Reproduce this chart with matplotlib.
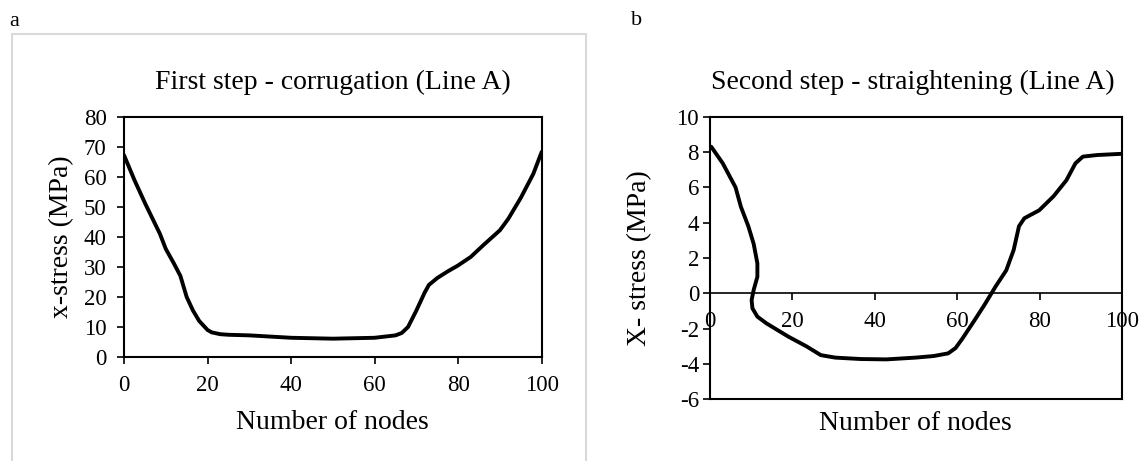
import matplotlib
matplotlib.use("Agg")
import matplotlib.pyplot as plt
from matplotlib.patches import Rectangle

plt.rcParams['font.family'] = ['Liberation Serif', 'DejaVu Serif']

# Panel a: first step - corrugation
nodes_a = [0, 2.5, 5.1, 8.6, 10, 12, 13.5, 15, 16.5, 18, 20, 21, 23, 25, 30, 40, 50,
           60, 65, 66.5, 68, 70, 72, 73, 75, 77.5, 80, 83, 86, 90, 92, 95, 98, 100]
stress_a = [67.2, 58.9, 51, 41, 36, 31, 27, 20, 15.5, 12, 9, 8.2, 7.6, 7.4, 7.2, 6.4,
            6.1, 6.4, 7.2, 8, 10, 15.5, 21.5, 24, 26.3, 28.5, 30.5, 33.3, 37.2, 42.2,
            46, 53, 61, 68.3]

# Panel b: second step - straightening
nodes_b = [0.3, 3.1, 6.2, 7.5, 9.3, 10.6, 11.5, 11.5, 10.6, 10.1, 10.3, 11.5, 13.7,
           19, 23.4, 26.9, 30.4, 36.6, 42.8, 49.9, 54.3, 57.8, 59.6, 61.3, 64, 66.6,
           69.3, 71.9, 73.7, 75, 76.3, 79.9, 83.4, 86.5, 88.7, 90.5, 94, 100]
stress_b = [8.3, 7.36, 6.0, 4.9, 3.8, 2.8, 1.7, 0.94, 0.19, -0.38, -0.85, -1.32, -1.7,
            -2.45, -3.0, -3.5, -3.64, -3.72, -3.74, -3.64, -3.55, -3.4, -3.1, -2.55,
            -1.6, -0.66, 0.38, 1.3, 2.45, 3.8, 4.25, 4.7, 5.5, 6.4, 7.36, 7.74, 7.83, 7.9]

xticks = [0, 20, 40, 60, 80, 100]
yticks_a = [0, 10, 20, 30, 40, 50, 60, 70, 80]
yticks_b = [-6, -4, -2, 0, 2, 4, 6, 8, 10]

title_a = "First step - corrugation (Line A)"
title_b = "Second step - straightening (Line A)"
ylabel_a = "x-stress (MPa)"
ylabel_b = "X- stress (MPa)"
xlabel = "Number of nodes"

W, H = 1141, 461
fig = plt.figure(figsize=(W / 100, H / 100), dpi=100)

def fx(px):
    return px / W

def fy(py):
    return 1 - py / H

# light grey frame around panel a
fig.patches.append(Rectangle((fx(12), fy(470)), fx(586) - fx(12), fy(34.3) - fy(470),
                             transform=fig.transFigure, fill=False,
                             edgecolor='#d9d9d9', linewidth=1.5, clip_on=False))

TICK_FS = 16.5
LABEL_FS = 20
TITLE_FS = 20
LW = 2.8
SPINE_LW = 1.5


def style(ax, ypad):
    for s in ax.spines.values():
        s.set_linewidth(SPINE_LW)
    ax.tick_params(axis='both', labelsize=TICK_FS, length=5, width=1.2,
                   direction='out')
    ax.tick_params(axis='x', pad=7.9)
    ax.tick_params(axis='y', pad=ypad)


# ---- panel a
L, R, T, B = 124, 541.7, 116.7, 357.0
axa = fig.add_axes([fx(L), fy(B), fx(R) - fx(L), fy(T) - fy(B)])
axa.plot(nodes_a, stress_a, color='black', linewidth=LW, solid_capstyle='round',
         solid_joinstyle='round')
axa.set_xlim(0, 100)
axa.set_ylim(0, 80)
axa.set_xticks(xticks)
axa.set_yticks(yticks_a)
style(axa, 7.5)
axa.text(0.5, 1 + (T - 89.3) / (B - T), title_a, transform=axa.transAxes,
         ha='center', va='baseline', fontsize=TITLE_FS)
axa.set_xlabel(xlabel, fontsize=LABEL_FS)
axa.xaxis.set_label_coords(0.5, -(410 - B) / (B - T))
axa.set_ylabel(ylabel_a, fontsize=LABEL_FS)
axa.yaxis.set_label_coords(-(L - 74.5) / (R - L), 0.5)

# ---- panel b
L2, R2, T2, B2 = 710, 1122, 116.7, 399.3
axb = fig.add_axes([fx(L2), fy(B2), fx(R2) - fx(L2), fy(T2) - fy(B2)])
axb.plot(nodes_b, stress_b, color='black', linewidth=LW, solid_capstyle='round',
         solid_joinstyle='round')
axb.set_xlim(0, 100)
axb.set_ylim(-6, 10)
axb.set_xticks(xticks)
axb.set_yticks(yticks_b)
axb.set_yticklabels([str(v) for v in yticks_b])
style(axb, 2.9)
axb.spines['bottom'].set_position(('data', 0))
axb.spines['bottom'].set_linewidth(1.2)
axb.axhline(-6, color='black', linewidth=SPINE_LW, clip_on=False)
axb.text((912.7 - L2) / (R2 - L2), 1 + (T2 - 89.3) / (B2 - T2), title_b,
         transform=axb.transAxes, ha='center', va='baseline', fontsize=TITLE_FS)
axb.set_ylabel(ylabel_b, fontsize=LABEL_FS)
axb.yaxis.set_label_coords(-(L2 - 652) / (R2 - L2), 0.5)
axb.text((915.5 - L2) / (R2 - L2), -(411 - B2) / (B2 - T2), xlabel,
         transform=axb.transAxes, ha='center', va='top', fontsize=LABEL_FS)

fig.text(fx(14.5), fy(21.5), "a", fontsize=16, ha='center', va='center')
fig.text(fx(636.7), fy(20.7), "b", fontsize=16, ha='center', va='center')

fig.savefig("out.png", dpi=100)
